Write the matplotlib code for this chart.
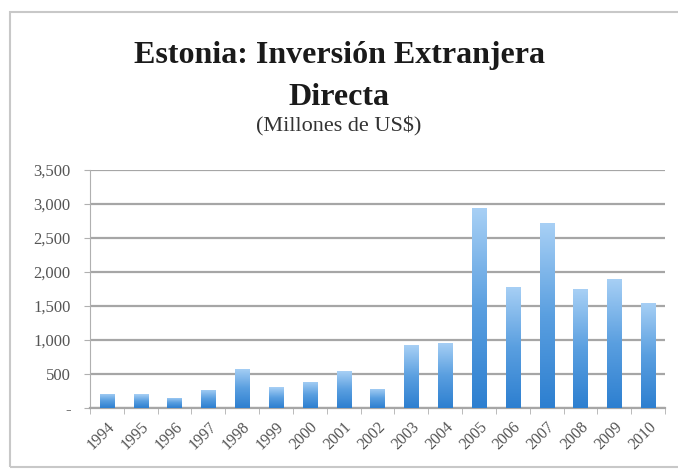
import matplotlib
matplotlib.use("Agg")
import matplotlib.pyplot as plt
import numpy as np
from matplotlib.patches import Rectangle
from matplotlib.ticker import FuncFormatter

# Inversión extranjera directa, millones de US$
years = ['1994', '1995', '1996', '1997', '1998', '1999', '2000', '2001', '2002',
         '2003', '2004', '2005', '2006', '2007', '2008', '2009', '2010']
fdi = [212, 205, 150, 268, 580, 308, 385, 540, 282,
       922, 962, 2935, 1782, 2714, 1748, 1903, 1545]
y_ticks = [0, 500, 1000, 1500, 2000, 2500, 3000, 3500]

plt.rcParams['font.family'] = ['Liberation Serif', 'DejaVu Serif']

fig = plt.figure(figsize=(6.78, 4.71), dpi=100)
ax = fig.add_axes([90 / 678, 1 - 408 / 471, 575 / 678, 238 / 471])

# chart frame (runs off the right edge)
fig.patches.append(Rectangle((10 / 678, 4 / 471), 700 / 678, 455 / 471,
                             transform=fig.transFigure, fill=False,
                             edgecolor='#c8c8c8', linewidth=1.5))

x = np.arange(len(years))
bars = ax.bar(x, fdi, width=0.42, color='none', edgecolor='none', zorder=3)

# vertical gradient inside each bar: light at the top, darker at the bottom
grad = np.linspace(0, 1, 256).reshape(-1, 1)
cmap = matplotlib.colors.LinearSegmentedColormap.from_list(
    'bar', ['#2d7fd0', '#5a9fe0', '#a8d0f5'])
for b in bars:
    x0, y0 = b.get_x(), b.get_y()
    w, h = b.get_width(), b.get_height()
    im = ax.imshow(grad, extent=[x0, x0 + w, y0, y0 + h], origin='lower',
                   cmap=cmap, aspect='auto', zorder=3)
    im.set_clip_path(b)

ax.set_xlim(-0.5, len(years) - 0.5)
ax.set_ylim(0, 3500)
ax.set_yticks(y_ticks)
ax.yaxis.set_major_formatter(FuncFormatter(lambda v, p: '-' if v == 0 else f'{int(v):,}'))
ax.set_xticks(x)
ax.set_xticklabels(years, rotation=45, ha='right', rotation_mode='anchor')
ax.set_xticks(np.arange(-0.5, len(years), 1), minor=True)
ax.tick_params(axis='x', which='major', length=0, pad=8, labelsize=11.5, colors='#555555')
ax.tick_params(axis='x', which='minor', length=4, color='#b0b0b0')
ax.tick_params(axis='y', length=4, color='#b0b0b0', labelsize=12, labelcolor='#555555', pad=10)

ax.grid(axis='y', color='#a6a6a6', linewidth=1.6, zorder=0)
ax.set_axisbelow(True)
for s in ['top', 'right']:
    ax.spines[s].set_visible(False)
ax.spines['left'].set_color('#b0b0b0')
ax.spines['bottom'].set_color('#a6a6a6')
ax.spines['bottom'].set_linewidth(1.6)

fig.text(0.5, 1 - 63 / 471, 'Estonia: Inversión Extranjera', ha='center', va='baseline',
         fontsize=23, fontweight='bold', color='#1a1a1a')
fig.text(0.5, 1 - 105 / 471, 'Directa', ha='center', va='baseline',
         fontsize=23, fontweight='bold', color='#1a1a1a')
fig.text(0.5, 1 - 131 / 471, '(Millones de US$)', ha='center', va='baseline',
         fontsize=16, color='#333333')

fig.savefig('out.png', dpi=100)
